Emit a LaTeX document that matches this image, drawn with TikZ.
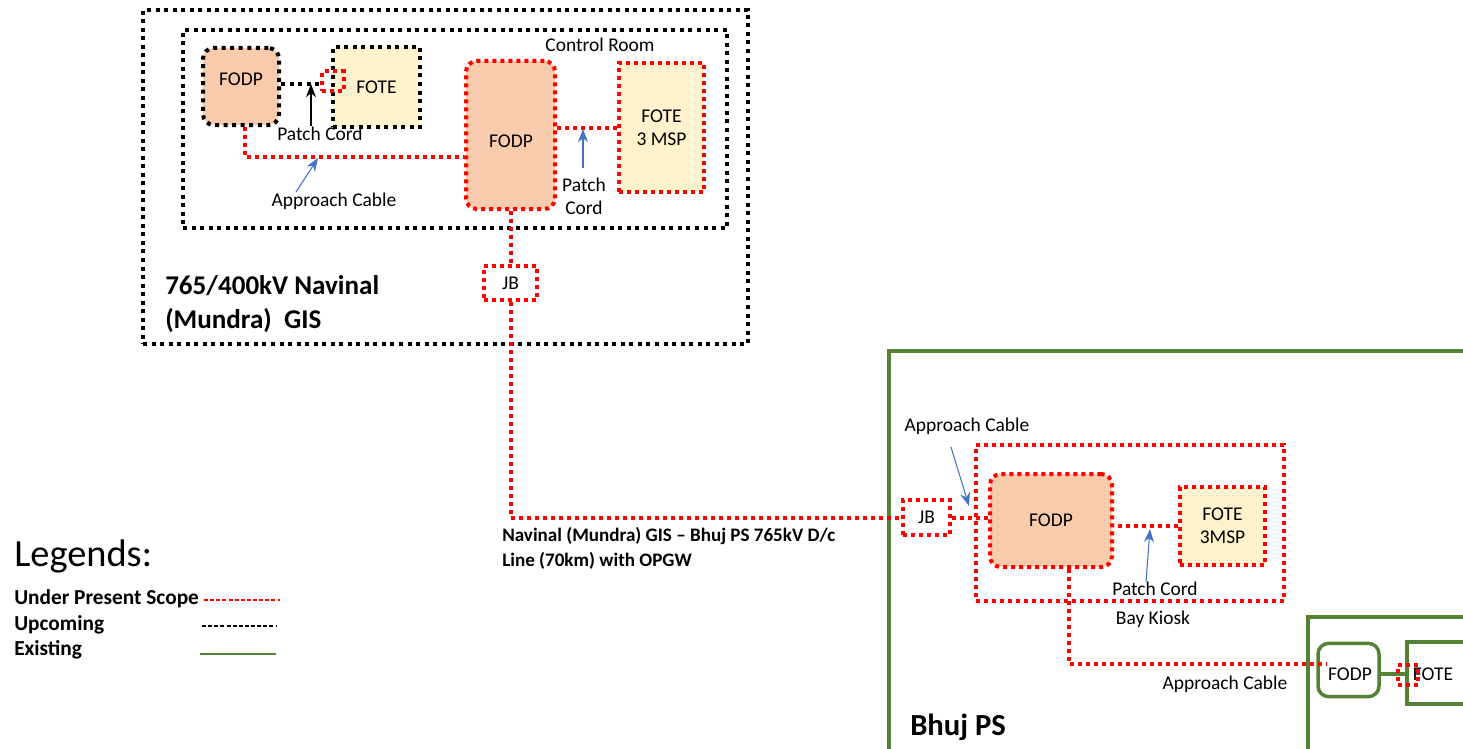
\documentclass[tikz,border=0pt]{standalone}
\usepackage{fontspec}
\setmainfont{Carlito}
\usetikzlibrary{arrows.meta,calc}
\definecolor{peach}{HTML}{F8CBAD}
\definecolor{cream}{HTML}{FFF2CC}
\definecolor{exgreen}{HTML}{548235}
\definecolor{arrblue}{HTML}{4472C4}
\begin{document}
\begin{tikzpicture}[x=0.75pt,y=-0.75pt,
  every node/.style={font=\fontsize{14.6}{17.5}\selectfont, inner sep=0pt},
  rdot/.style={draw=red, line width=3pt, dash pattern=on 3pt off 3pt},
  bdot/.style={draw=black, line width=3pt, dash pattern=on 3pt off 3.4pt},
  gline/.style={draw=exgreen, line width=2.6pt},
  boxn/.style={rectangle, align=center},
  rbox/.style={boxn, rounded corners=8pt},
  barrow/.style={draw=arrblue, line width=0.8pt, -{Stealth[length=10pt,width=7.5pt]}},
  karrow/.style={draw=black, line width=0.9pt, -{Stealth[length=10pt,width=7.5pt]}},
  lbl/.style={align=center},
  ttl/.style={font=\bfseries\fontsize{20.3}{25.5}\selectfont, align=left, anchor=west},
  lgd/.style={font=\bfseries\fontsize{16}{18}\selectfont, anchor=west}
]
\useasboundingbox (0,0) rectangle (1463,749);
\fill[white] (0,0) rectangle (1463,749);

% ---------------- Navinal ----------------
\node[boxn, bdot, minimum width=453.75pt, minimum height=250.5pt] (nav) at (445.5,177) {};
\node[boxn, bdot, minimum width=408pt, minimum height=148.5pt] (cr) at (455,129) {};
\node (crl) at (600,45) {Control Room};

\node[rbox, bdot, fill=peach, minimum width=57pt, minimum height=57.75pt] (fodpa) at (241,86.5) {};
\node (fodpal) at (241,79) {FODP};
\node[boxn, bdot, fill=cream, minimum width=65.25pt, minimum height=60pt] (fotea) at (376.5,87) {FOTE};
\coordinate (pca) at (322,84);
\draw[bdot] (fodpa.east |- pca) -- (pca);
\node[boxn, rdot, minimum width=16pt, minimum height=15pt] (sqa) at (333,81.5) {};

\node (pcl) at (320,134) {Patch Cord};
\coordinate (pcs) at (311,126);
\coordinate (pce) at (311,84);
\draw[karrow] (pcs) -- (pce);

\node[rbox, rdot, fill=peach, minimum width=66.75pt, minimum height=111pt] (fodpb) at (510.5,135) {};
\node (fodpbl) at (511,141) {FODP};
\node[boxn, rdot, fill=cream, minimum width=63.75pt, minimum height=96.75pt] (foteb) at (661.5,127.5) {FOTE\\3 MSP};

\coordinate (aca) at (245,157);
\draw[rdot] ($(fodpa.south)+(4,0)$) -- (aca) -- (aca -| fodpb.west);
\node (acl) at (334,201) {Approach Cable};
\coordinate (acs) at (296,192);
\coordinate (ace) at (318,158);
\draw[barrow] (acs) -- (ace);

\draw[rdot] (foteb.west) -- (foteb.west -| fodpb.east);
\node[lbl] (pcbl) at (584,196) {Patch\\Cord};
\coordinate (pbs) at (583,168);
\coordinate (pbe) at (583,129);
\draw[barrow] (pbs) -- (pbe);

\node[boxn, rdot, minimum width=39.75pt, minimum height=25.5pt] (jba) at (510.5,283) {JB};
\draw[rdot] (fodpb.south) -- (jba.north);

\node[ttl] (navt) at (165,304) {765/400kV Navinal\\(Mundra)\ \ GIS};

% ---------------- Bhuj ----------------
\node[boxn, gline, minimum width=439.5pt, minimum height=303pt] (bhuj) at (1182,553) {};
\node[ttl, font=\bfseries\fontsize{23}{27}\selectfont] (bhujt) at (910,727) {Bhuj PS};

\node[boxn, rdot, minimum width=35.25pt, minimum height=26.25pt] (jbb) at (926.5,517.5) {JB};
\draw[rdot] (jba.south) |- (jbb.west);

\node[boxn, rdot, minimum width=231pt, minimum height=117pt] (bay) at (1130,523) {};
\node (bayl) at (1153,619) {Bay Kiosk};

\node[rbox, rdot, fill=peach, minimum width=91.5pt, minimum height=69.75pt] (fodpc) at (1051,520.5) {FODP};
\node[boxn, rdot, fill=cream, minimum width=63.75pt, minimum height=58.5pt] (fotec) at (1222.5,526) {FOTE\\3MSP};

\draw[rdot] (jbb.east) -- (jbb.east -| fodpc.west);
\node (acbl) at (967,426) {Approach Cable};
\coordinate (abs) at (951,447);
\coordinate (abe) at (969,506);
\draw[barrow] (abs) -- (abe);

\draw[rdot] (fotec.west) -- (fotec.west -| fodpc.east);
\node (pccl) at (1155,589) {Patch Cord};
\coordinate (pcs2) at (1146,582);
\coordinate (pce2) at (1150,529);
\draw[barrow] (pcs2) -- (pce2);

% existing
\node[boxn, gline, minimum width=125pt, minimum height=103.5pt] (exb) at (1391.5,686) {};
\node[rbox, gline, fill=white, minimum width=45.75pt, minimum height=40pt] (fodpd) at (1348.5,670) {};
\node (fodpdl) at (1350,674) {FODP};
\node[boxn, gline, fill=white, minimum width=51pt, minimum height=46.5pt] (foted) at (1441,673) {};
\draw[gline] (fodpd.east |- 0,674) -- (foted.west |- 0,674);
\node[boxn, rdot, minimum width=15pt, minimum height=15pt] (sqd) at (1408,675) {};
\node (fotedl) at (1433,674) {FOTE};

\coordinate (acd) at (1327,664);
\draw[rdot] ($(fodpc.south)+(18,0)$) |- (acd);
\node (acdl) at (1225,684) {Approach Cable};

% line label
\node[font=\bfseries\fontsize{14.3}{18.75}\selectfont, align=left, anchor=west] (linel) at (502,548.5) {Navinal (Mundra) GIS -- Bhuj PS 765kV D/c\\Line (70km) with OPGW};

% ---------------- Legend ----------------
\node[font=\fontsize{28.8}{32}\selectfont, anchor=west] (lgt) at (14,556) {Legends:};
\node[lgd] (lg1) at (14,599) {Under Present Scope};
\node[lgd] (lg2) at (14,625) {Upcoming};
\node[lgd] (lg3) at (14,650) {Existing};
\coordinate (l1a) at (204,600); \coordinate (l1b) at (280,600);
\coordinate (l2a) at (202,626); \coordinate (l2b) at (277,626);
\coordinate (l3a) at (200,654); \coordinate (l3b) at (276,654);
\draw[red, line width=0.9pt, dash pattern=on 3pt off 1.6pt] (l1a) -- (l1b);
\draw[black, line width=0.9pt, dash pattern=on 3pt off 1.6pt] (l2a) -- (l2b);
\draw[exgreen, line width=1.6pt] (l3a) -- (l3b);
\end{tikzpicture}
\end{document}
